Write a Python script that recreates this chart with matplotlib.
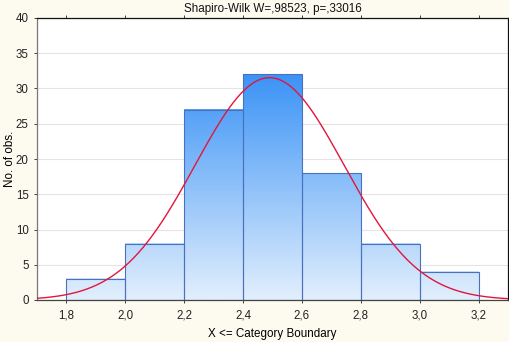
import numpy as np
import matplotlib
matplotlib.use("Agg")
import matplotlib.pyplot as plt
from matplotlib.colors import LinearSegmentedColormap

plt.rcParams['font.family'] = ['Liberation Sans', 'DejaVu Sans']

bin_edges = [1.8, 2.0, 2.2, 2.4, 2.6, 2.8, 3.0, 3.2]
counts = [3, 8, 27, 32, 18, 8, 4]
fit_mean = 2.49
fit_sd = 0.253
n_obs = 100
x_ticks = [1.8, 2.0, 2.2, 2.4, 2.6, 2.8, 3.0, 3.2]
x_tick_labels = ["1,8", "2,0", "2,2", "2,4", "2,6", "2,8", "3,0", "3,2"]
y_ticks = [0, 5, 10, 15, 20, 25, 30, 35, 40]
title = "Shapiro-Wilk W=,98523, p=,33016"

fig = plt.figure(figsize=(5.09, 3.42), dpi=100)
fig.patch.set_facecolor('#fdfbf0')
ax = fig.add_axes([37/509, 1 - 300/342, (508-37)/509, (300-18)/342])
ax.set_facecolor('white')
ax.set_xlim(1.7, 3.3)
ax.set_ylim(0, 40)

cmap = LinearSegmentedColormap.from_list('g', ['#e2effd', '#3b93f6'])
ymax_grad = 32.0
for i, c in enumerate(counts):
    x0, x1 = bin_edges[i], bin_edges[i+1]
    g = np.linspace(0, c / ymax_grad, 256).reshape(-1, 1)
    ax.imshow(g, cmap=cmap, vmin=0, vmax=1, origin='lower', aspect='auto',
              extent=(x0, x1, 0, c), zorder=2, interpolation='bilinear')
    ax.bar(x0, c, width=x1 - x0, align='edge', facecolor='none',
           edgecolor='#4a70c0', linewidth=0.8, zorder=3)

binw = bin_edges[1] - bin_edges[0]
xs = np.linspace(1.7, 3.3, 400)
ys = n_obs * binw * np.exp(-0.5 * ((xs - fit_mean) / fit_sd) ** 2) / (fit_sd * np.sqrt(2 * np.pi))
ax.plot(xs, ys, color='#e2163c', linewidth=1.0, zorder=4)

ax.set_xlim(1.7, 3.3)
ax.set_ylim(0, 40)
ax.set_yticks(y_ticks)
ax.set_xticks(x_ticks)
ax.set_xticklabels(x_tick_labels)
ax.grid(axis='y', color='#e4e4e4', linewidth=0.8, zorder=0)
ax.set_axisbelow(True)
ax.tick_params(axis='both', labelsize=8.3, length=2.5, width=0.6, colors='#222222',
               top=True, right=True, direction='out')
ax.tick_params(axis='x', pad=4)
for s in ['top', 'right']:
    ax.spines[s].set_color('#111111')
ax.spines['left'].set_color('#777777')
ax.spines['bottom'].set_color('#444444')
for s in ax.spines.values():
    s.set_linewidth(0.9)

ax.set_title(title, fontsize=8.4, pad=4, color='#111111')
ax.set_xlabel("X <= Category Boundary", fontsize=8.4)
ax.xaxis.set_label_coords(0.5, -0.1)
ax.set_ylabel("No. of obs.", fontsize=8.4)
ax.yaxis.set_label_coords(-0.045, 0.5)

fig.savefig('out.png', dpi=100, facecolor=fig.get_facecolor())
